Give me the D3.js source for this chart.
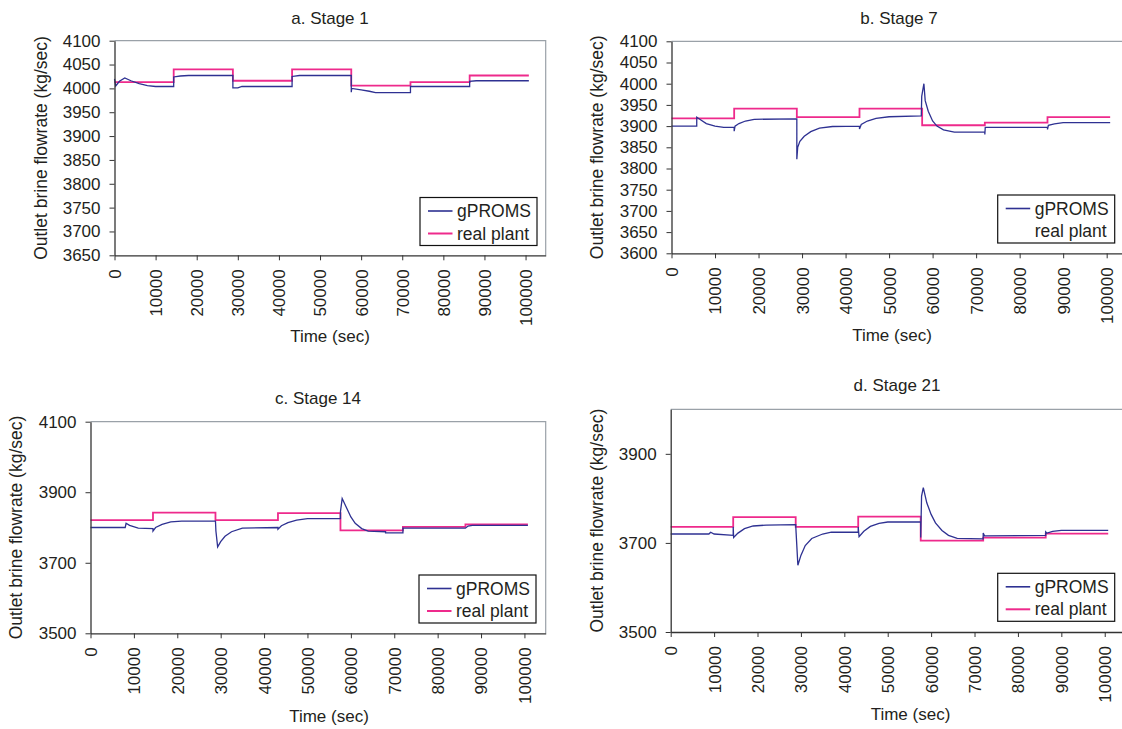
<!DOCTYPE html>
<html>
<head>
<meta charset="utf-8">
<script src="https://cdn.jsdelivr.net/npm/d3@7/dist/d3.min.js"></script>
<style>
body { margin: 0; background: #fff; }
text { font-family: Arial, "Liberation Sans", sans-serif; fill: #231f20; }
</style>
</head>
<body>
<script>
var width = 1122,
    height = 729;

// time axis (sec), plant set-point changes every 4 h
var xTicks = [0, 10000, 20000, 30000, 40000, 50000, 60000, 70000, 80000, 90000, 100000];
var stepTimes = [0, 14400, 28800, 43200, 57600, 72000, 86400, 100800];

var yTicksA = [3650, 3700, 3750, 3800, 3850, 3900, 3950, 4000, 4050, 4100];
var yTicksB = [3600, 3650, 3700, 3750, 3800, 3850, 3900, 3950, 4000, 4050, 4100];
var yTicksC = [3500, 3700, 3900, 4100];
var yTicksD = [3500, 3700, 3900];

// real plant, one value per 4 h block
var plant1 = [4013, 4040, 4016, 4040, 4006, 4013, 4027];
var plant7 = [3918, 3941, 3921, 3941, 3902, 3908, 3921];
var plant14 = [3821, 3842, 3821, 3841, 3792, 3802, 3809];
var plant21 = [3736, 3758, 3736, 3759, 3705, 3712, 3721];

// gPROMS results [time, flowrate]
var model1 = [[0, 4020], [300, 4005], [1200, 4015], [2500, 4022], [4000, 4016], [6000, 4010], [8000, 4006],
    [10000, 4004], [14400, 4004], [14400, 4024], [16000, 4026], [18000, 4027], [28800, 4027], [28800, 4001],
    [30000, 4001], [31000, 4004], [43200, 4004], [43200, 4025], [45000, 4027], [57600, 4027], [57600, 3992],
    [57700, 4000], [60000, 3997], [62000, 3994], [63500, 3991], [72000, 3991], [72000, 4004], [86400, 4004],
    [86400, 4015], [88000, 4016], [100800, 4016]];
var model7 = [[0, 3900], [5800, 3900], [5800, 3921], [6500, 3916], [8000, 3906], [10000, 3900], [12000, 3897],
    [14400, 3897], [14400, 3888], [14600, 3900], [15500, 3906], [17000, 3912], [19000, 3916], [28800, 3917],
    [28800, 3822], [29000, 3850], [29500, 3864], [30500, 3876], [32000, 3887], [34000, 3895], [37000, 3899],
    [43200, 3900], [43200, 3893], [43600, 3904], [45000, 3912], [47000, 3918], [50000, 3922], [57400, 3924],
    [57500, 3970], [58000, 4000], [58300, 3960], [59000, 3935], [60000, 3912], [61000, 3900], [62500, 3891],
    [65000, 3886], [72000, 3886], [72000, 3880], [72100, 3897], [86400, 3897], [86400, 3892], [86600, 3902],
    [88000, 3905], [90000, 3908], [100800, 3908]];
var model14 = [[0, 3800], [8000, 3800], [8200, 3812], [9000, 3806], [11000, 3798], [14400, 3797], [14400, 3790],
    [15000, 3800], [16500, 3809], [18500, 3816], [21000, 3818], [28800, 3818], [28900, 3790], [29300, 3745],
    [30000, 3760], [31000, 3775], [32500, 3788], [35000, 3798], [43200, 3800], [43200, 3795], [44000, 3805],
    [45500, 3814], [47500, 3821], [50000, 3825], [57600, 3825], [57600, 3845], [58000, 3882], [59000, 3856],
    [60000, 3830], [61000, 3812], [62500, 3797], [64000, 3790], [68000, 3788], [68000, 3785], [72000, 3785],
    [72000, 3798], [86400, 3798], [87000, 3804], [88000, 3806], [100800, 3806]];
var model21 = [[0, 3720], [8800, 3720], [9200, 3724], [10000, 3720], [14400, 3717], [14400, 3736], [14500, 3712],
    [15500, 3722], [17000, 3732], [19000, 3738], [22000, 3740], [28800, 3741], [28900, 3722], [29300, 3650],
    [30000, 3672], [31000, 3694], [32500, 3710], [35000, 3720], [37000, 3724], [43200, 3724], [43200, 3736],
    [43400, 3714], [44500, 3726], [46000, 3737], [48000, 3744], [50000, 3747], [57600, 3747], [57600, 3712],
    [57800, 3805], [58200, 3824], [59000, 3790], [60000, 3764], [61000, 3745], [62500, 3728], [64000, 3717],
    [66000, 3710], [72000, 3709], [72000, 3722], [72300, 3716], [86400, 3717], [86400, 3725], [86700, 3722],
    [88000, 3726], [90000, 3728], [100800, 3728]];

var panels = [
    {title: 'a. Stage 1', model: model1, plant: plant1, yTicks: yTicksA, yMin: 3650, yMax: 4100,
        left: 114.5, right: 545.7, top: 40.7, bottom: 255.3, titleX: 330, titleY: 23.5,
        ylabX: 47, xlabX: 330, xlabY: 342, legX: 420, legY: 197.5, plantSwatch: true},
    {title: 'b. Stage 7', model: model7, plant: plant7, yTicks: yTicksB, yMin: 3600, yMax: 4100,
        left: 671.5, right: 1128, top: 41.3, bottom: 253.3, titleX: 899, titleY: 23.5,
        ylabX: 603, xlabX: 892, xlabY: 341, legX: 997.7, legY: 195, plantSwatch: false},
    {title: 'c. Stage 14', model: model14, plant: plant14, yTicks: yTicksC, yMin: 3500, yMax: 4100,
        left: 90.5, right: 545.7, top: 421.7, bottom: 633.3, titleX: 318, titleY: 403.5,
        ylabX: 22, xlabX: 329, xlabY: 721.5, legX: 419, legY: 575, plantSwatch: true},
    {title: 'd. Stage 21', model: model21, plant: plant21, yTicks: yTicksD, yMin: 3500, yMax: 4000,
        left: 670.7, right: 1126, top: 409.3, bottom: 632, titleX: 897, titleY: 390.7,
        ylabX: 603, xlabX: 910.5, xlabY: 720, legX: 997.7, legY: 573.3, plantSwatch: true}
];

var blue = '#2e3192',
    pink = '#ee2a8c',
    fontSize = 17;

var svg = d3.select('body').append('svg')
    .attr('width', width)
    .attr('height', height);

function drawPanel(p) {
    var x = d3.scaleLinear().domain([0, 104900]).range([p.left, p.right]);
    var y = d3.scaleLinear().domain([p.yMin, p.yMax]).range([p.bottom, p.top]);
    var g = svg.append('g');

    // grey frame on top and right
    g.append('path')
        .attr('d', 'M' + p.left + ',' + p.top + 'H' + p.right + 'V' + p.bottom)
        .attr('fill', 'none')
        .attr('stroke', '#9aa1a8')
        .attr('stroke-width', 1.2);

    var plantPts = stepTimes.map(function(t, i) {
        return [t, p.plant[Math.min(i, p.plant.length - 1)]];
    });

    var line = d3.line().x(function(d) { return x(d[0]); }).y(function(d) { return y(d[1]); });

    g.append('path')
        .datum(plantPts)
        .attr('d', line.curve(d3.curveStepAfter))
        .attr('fill', 'none')
        .attr('stroke', pink)
        .attr('stroke-width', 1.8);

    g.append('path')
        .datum(p.model)
        .attr('d', line.curve(d3.curveLinear))
        .attr('fill', 'none')
        .attr('stroke', blue)
        .attr('stroke-width', 1.3);

    var ya = g.append('g')
        .attr('transform', 'translate(' + p.left + ',0)')
        .call(d3.axisLeft(y).tickValues(p.yTicks).tickSize(5).tickPadding(9).tickSizeOuter(0).tickFormat(d3.format('d')));

    var xa = g.append('g')
        .attr('transform', 'translate(0,' + p.bottom + ')')
        .call(d3.axisBottom(x).tickValues(xTicks).tickSize(5).tickSizeOuter(0).tickFormat(d3.format('d')));

    xa.selectAll('text')
        .attr('transform', 'rotate(-90)')
        .attr('text-anchor', 'end')
        .attr('x', -14)
        .attr('y', 0)
        .attr('dy', '0.35em');

    [ya, xa].forEach(function(a) {
        a.attr('font-size', fontSize).attr('font-family', 'Arial, "Liberation Sans", sans-serif');
        a.selectAll('text').attr('fill', '#231f20');
        a.selectAll('line').attr('stroke', '#333');
        a.select('.domain').attr('stroke', '#333').attr('stroke-width', 1.3);
    });

    g.append('text')
        .attr('x', p.titleX)
        .attr('y', p.titleY)
        .attr('text-anchor', 'middle')
        .attr('font-size', fontSize)
        .text(p.title);

    g.append('text')
        .attr('transform', 'translate(' + p.ylabX + ',' + (p.top + p.bottom) / 2 + ') rotate(-90)')
        .attr('text-anchor', 'middle')
        .attr('font-size', 17.5)
        .text('Outlet brine flowrate (kg/sec)');

    g.append('text')
        .attr('x', p.xlabX)
        .attr('y', p.xlabY)
        .attr('text-anchor', 'middle')
        .attr('font-size', fontSize)
        .text('Time (sec)');

    // legend
    var leg = g.append('g').attr('transform', 'translate(' + p.legX + ',' + p.legY + ')');
    leg.append('rect')
        .attr('width', 117)
        .attr('height', 48)
        .attr('fill', '#fff')
        .attr('stroke', '#111')
        .attr('stroke-width', 1.2);
    var items = [{name: 'gPROMS', color: blue, w: 1.6, show: true},
                 {name: 'real plant', color: pink, w: 2, show: p.plantSwatch}];
    items.forEach(function(it, i) {
        if (it.show) {
            leg.append('line')
                .attr('x1', 8).attr('x2', 32.5)
                .attr('y1', 13.5 + i * 22.5).attr('y2', 13.5 + i * 22.5)
                .attr('stroke', it.color)
                .attr('stroke-width', it.w);
        }
        leg.append('text')
            .attr('x', 37)
            .attr('y', 19.5 + i * 22.5)
            .attr('font-size', 17.5)
            .text(it.name);
    });
}

panels.forEach(drawPanel);
</script>
</body>
</html>
